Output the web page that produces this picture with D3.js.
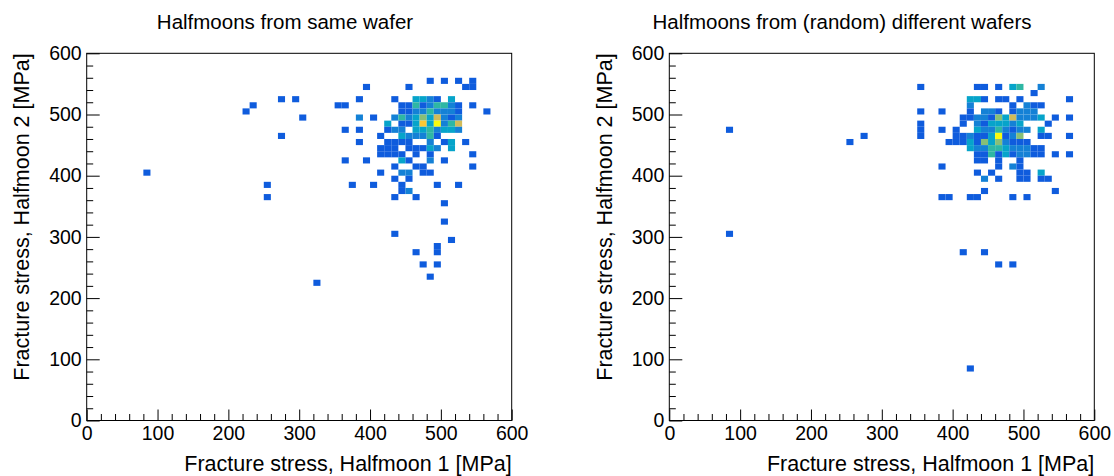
<!DOCTYPE html>
<html>
<head>
<meta charset="utf-8">
<script src="https://cdn.jsdelivr.net/npm/d3@7"></script>
<style>
  body { margin: 0; background: #fff; }
  svg text { font-family: "Liberation Sans", Arial, Helvetica, sans-serif; fill: #000; }
</style>
</head>
<body>
<svg id="chart" width="1114" height="476"></svg>
<script>
// histogram binning (MPa)
const binSize = 10;
const axisRange = [0, 600];
const majorTicks = [0, 100, 200, 300, 400, 500, 600];
const minorTicks = d3.range(0, 601, 20).filter(v => v % 100 !== 0);

const panelTitles = ["Halfmoons from same wafer", "Halfmoons from (random) different wafers"];
const xTitle = "Fracture stress, Halfmoon 1 [MPa]";
const yTitle = "Fracture stress, Halfmoon 2 [MPa]";

// [halfmoon 1 bin, halfmoon 2 bin, entries]
const sameWafer = [
  [480,550,1],[500,550,1],[520,550,1],[540,550,1],
  [390,540,1],[450,540,1],[530,540,1],[540,540,1],
  [270,520,1],[290,520,1],[380,520,1],[430,520,1],[460,520,3],[470,520,3],[480,520,2],[490,520,1],[510,520,3],
  [230,510,1],[350,510,1],[360,510,1],[440,510,1],[450,510,1],[460,510,4],[470,510,1],[480,510,2],[490,510,4],[500,510,4],[510,510,2],[520,510,1],[540,510,1],
  [220,500,1],[440,500,1],[450,500,1],[460,500,2],[470,500,2],[480,500,4],[490,500,2],[500,500,2],[510,500,2],[520,500,1],[560,500,1],
  [300,490,1],[380,490,2],[400,490,1],[430,490,2],[440,490,4],[450,490,2],[460,490,3],[470,490,5],[480,490,3],[490,490,6],[500,490,2],[510,490,1],[520,490,2],
  [420,480,3],[440,480,1],[450,480,1],[460,480,3],[470,480,7],[480,480,3],[490,480,8],[500,480,2],[510,480,4],[520,480,6],
  [360,470,1],[380,470,1],[420,470,1],[430,470,2],[440,470,2],[460,470,3],[470,470,3],[480,470,4],[490,470,2],[500,470,3],[510,470,3],[520,470,2],
  [270,460,1],[410,460,1],[440,460,3],[450,460,2],[460,460,2],[470,460,2],[480,460,4],[490,460,1],
  [380,450,1],[420,450,1],[430,450,1],[440,450,1],[450,450,1],[480,450,2],[500,450,1],[510,450,3],[530,450,1],
  [410,440,1],[420,440,1],[430,440,1],[450,440,1],[460,440,1],[470,440,1],[480,440,3],[490,440,2],[510,440,3],
  [410,430,1],[420,430,1],[430,430,1],[440,430,1],[460,430,1],[480,430,1],[540,430,1],
  [360,420,1],[390,420,1],[440,420,3],[450,420,1],[480,420,2],[500,420,1],
  [430,410,1],[460,410,1],[470,410,1],[540,410,1],
  [80,400,1],[410,400,1],[440,400,2],[450,400,2],[470,400,1],[480,400,1],
  [430,390,1],[450,390,1],
  [250,380,1],[370,380,1],[400,380,1],[440,380,1],[490,380,1],[520,380,1],
  [440,370,1],[450,370,2],
  [250,360,1],[430,360,1],[460,360,1],
  [500,350,1],[500,320,1],[430,300,1],[510,290,1],[490,280,1],[460,270,1],[490,270,1],
  [470,250,1],[490,250,1],[480,230,1],[320,220,1]
];

const diffWafers = [
  [350,540,1],[430,540,1],[440,540,1],[460,540,1],[480,540,3],[490,540,4],[520,540,2],
  [510,530,1],
  [420,520,3],[430,520,3],[440,520,1],[460,520,1],[470,520,1],[490,520,1],[560,520,1],
  [420,510,2],[480,510,1],[500,510,2],[510,510,1],[520,510,1],
  [350,500,1],[380,500,1],[420,500,1],[440,500,2],[450,500,2],[460,500,1],[480,500,1],[490,500,2],[500,500,2],[510,500,2],
  [410,490,1],[420,490,1],[430,490,2],[440,490,2],[450,490,1],[460,490,5],[470,490,3],[480,490,6],[490,490,2],[500,490,2],[510,490,2],[520,490,3],[540,490,1],[560,490,1],
  [350,480,1],[410,480,1],[430,480,2],[440,480,1],[450,480,3],[460,480,3],[470,480,3],[480,480,2],[490,480,3],[530,480,1],
  [80,470,1],[350,470,1],[380,470,1],[400,470,1],[430,470,3],[440,470,2],[450,470,2],[460,470,4],[470,470,2],[480,470,1],[490,470,2],[500,470,2],[520,470,3],
  [270,460,1],[350,460,1],[400,460,1],[410,460,1],[420,460,2],[430,460,1],[440,460,1],[450,460,3],[460,460,8],[470,460,1],[480,460,2],[490,460,5],[520,460,1],[530,460,1],[560,460,1],
  [250,450,1],[390,450,1],[400,450,1],[410,450,1],[420,450,3],[430,450,1],[440,450,5],[450,450,3],[460,450,5],[470,450,2],[480,450,1],[490,450,1],[500,450,1],
  [420,440,3],[430,440,2],[440,440,2],[450,440,4],[460,440,4],[470,440,3],[480,440,2],[490,440,2],[500,440,2],[510,440,1],[520,440,1],
  [430,430,1],[440,430,1],[450,430,4],[460,430,1],[470,430,3],[480,430,1],[490,430,2],[500,430,2],[510,430,1],[520,430,1],[540,430,1],[560,430,1],
  [430,420,1],[440,420,1],[460,420,1],[490,420,1],
  [380,410,1],[460,410,1],[480,410,2],[490,410,1],
  [430,400,1],[450,400,1],[490,400,1],[500,400,1],[520,400,3],
  [440,390,2],[460,390,1],[490,390,1],[500,390,1],[520,390,1],[530,390,1],
  [440,370,1],[540,370,1],
  [380,360,1],[390,360,1],[420,360,1],[430,360,1],[480,360,1],[500,360,1],
  [80,300,1],[410,270,1],[440,270,1],[460,250,1],[480,250,1],[420,80,1]
];

const panels = [
  { data: sameWafer, title: panelTitles[0], dx: 0, titleX: 285 },
  { data: diffWafers, title: panelTitles[1], dx: 582.6, titleX: 259.4 }
];

// ROOT kBird palette stops
const birdColors = ["#352a87", "#0f5cdd", "#1481d6", "#06a4ca", "#2eb7a4", "#87bf77", "#d1bb59", "#fec832", "#f9fb0e"];

const frame = { left: 86.7, right: 511.7, top: 53.3, bottom: 420.5 };

const svg = d3.select("#chart");
svg.append("rect").attr("width", 1114).attr("height", 476).attr("fill", "#fff");

panels.forEach(p => {
  const g = svg.append("g").attr("transform", `translate(${p.dx},0)`);

  const x = d3.scaleLinear().domain(axisRange).range([frame.left, frame.right]);
  const y = d3.scaleLinear().domain(axisRange).range([frame.bottom, frame.top]);

  const zmax = d3.max(p.data, d => d[2]);
  const color = d3.scaleLinear()
    .domain(birdColors.map((c, k) => k / (birdColors.length - 1) * zmax))
    .range(birdColors)
    .interpolate(d3.interpolateRgb);

  // histogram cells
  g.append("g")
    .selectAll("rect")
    .data(p.data)
    .enter().append("rect")
    .attr("x", d => x(d[0]))
    .attr("y", d => y(d[1] + binSize))
    .attr("width", d => x(d[0] + binSize) - x(d[0]))
    .attr("height", d => y(d[1]) - y(d[1] + binSize))
    .attr("fill", d => color(d[2]));

  // minor ticks
  g.append("g")
    .attr("transform", `translate(0,${frame.bottom})`)
    .call(d3.axisBottom(x).tickValues(minorTicks).tickSize(-6.5).tickSizeOuter(0).tickFormat(""))
    .call(a => a.select(".domain").remove());
  g.append("g")
    .attr("transform", `translate(${frame.left},0)`)
    .call(d3.axisLeft(y).tickValues(minorTicks).tickSize(-6.5).tickSizeOuter(0).tickFormat(""))
    .call(a => a.select(".domain").remove());

  // major ticks + labels
  const xAxis = g.append("g")
    .attr("transform", `translate(0,${frame.bottom})`)
    .call(d3.axisBottom(x).tickValues(majorTicks).tickSize(-11).tickSizeOuter(0).tickPadding(6));
  xAxis.select(".domain").remove();
  xAxis.selectAll("text").attr("font-size", 19.5).style("font-family", "Liberation Sans, Arial, sans-serif");

  const yAxis = g.append("g")
    .attr("transform", `translate(${frame.left},0)`)
    .call(d3.axisLeft(y).tickValues(majorTicks).tickSize(-13).tickSizeOuter(0).tickPadding(5));
  yAxis.select(".domain").remove();
  yAxis.selectAll("text").attr("font-size", 19.5).style("font-family", "Liberation Sans, Arial, sans-serif");

  g.selectAll(".tick line").attr("stroke", "#000");

  // frame
  g.append("rect")
    .attr("x", frame.left).attr("y", frame.top)
    .attr("width", frame.right - frame.left)
    .attr("height", frame.bottom - frame.top)
    .attr("fill", "none").attr("stroke", "#000").attr("stroke-width", 1);

  // titles
  g.append("text")
    .attr("x", p.titleX).attr("y", 28.5)
    .attr("text-anchor", "middle")
    .attr("font-size", 20.5)
    .text(p.title);

  g.append("text")
    .attr("x", frame.right).attr("y", 470.5)
    .attr("text-anchor", "end")
    .attr("font-size", 21.5)
    .text(xTitle);

  g.append("text")
    .attr("transform", `translate(29,${frame.top}) rotate(-90)`)
    .attr("text-anchor", "end")
    .attr("font-size", 21.5)
    .text(yTitle);
});
</script>
</body>
</html>
